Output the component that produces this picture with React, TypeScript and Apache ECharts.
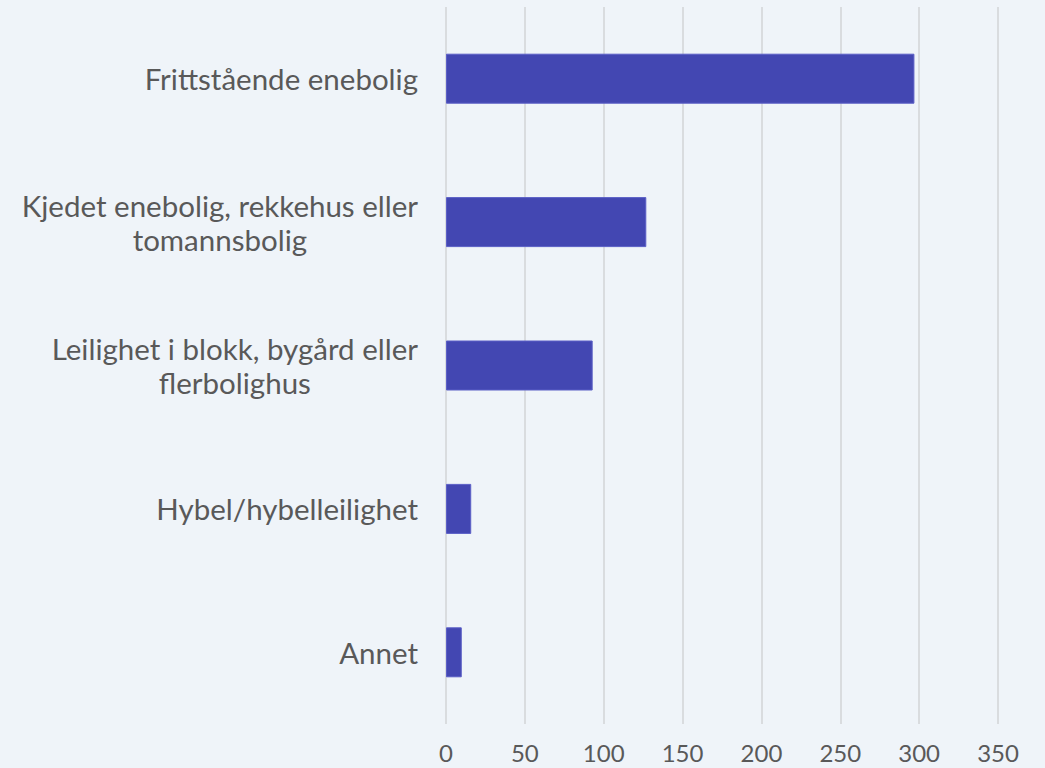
import React, { useEffect, useRef } from "react";
import * as echarts from "echarts";

const categories = [
  "Frittstående enebolig",
  "Kjedet enebolig, rekkehus eller\ntomannsbolig",
  "Leilighet i blokk, bygård eller\nflerbolighus",
  "Hybel/hybelleilighet",
  "Annet",
];
const values = [297, 127, 93, 16, 10];
const xMax = 350;
const xInterval = 50;

export default function App() {
  const ref = useRef<HTMLDivElement>(null);
  useEffect(() => {
    if (!ref.current) return;
    const chart = echarts.init(ref.current, undefined, { renderer: "svg" });
    chart.setOption({
      animation: false,
      backgroundColor: "#eff4f9",
      textStyle: { fontFamily: "Lato" },
      grid: { left: 446, right: 47, top: 7, bottom: 44, containLabel: false },
      xAxis: {
        type: "value",
        min: 0,
        max: xMax,
        interval: xInterval,
        axisLine: { show: false },
        axisTick: { show: false },
        splitLine: { show: true, lineStyle: { color: "#d9dcdf", width: 2 } },
        axisLabel: {
          color: "#595959",
          fontSize: 24,
          fontFamily: "Lato",
          margin: 16,
        },
      },
      yAxis: {
        type: "category",
        inverse: true,
        data: categories,
        axisLine: { show: false },
        axisTick: { show: false },
        splitLine: { show: false },
        axisLabel: {
          margin: 28,
          formatter: (v: string) => `{a|${v}}`,
          rich: {
            a: {
              color: "#595959",
              fontSize: 29.5,
              fontFamily: "Lato",
              lineHeight: 34,
              align: "center",
            },
          },
        },
      },
      series: [
        {
          type: "bar",
          data: values,
          barWidth: 50,
          itemStyle: {
            color: "#4347b2",
            borderColor: "#5b5fc6",
            borderWidth: 1,
          },
        },
      ],
    });
    return () => chart.dispose();
  }, []);
  return (
    <div
      ref={ref}
      style={{ position: "fixed", left: 0, top: 0, width: 1045, height: 768 }}
    />
  );
}
